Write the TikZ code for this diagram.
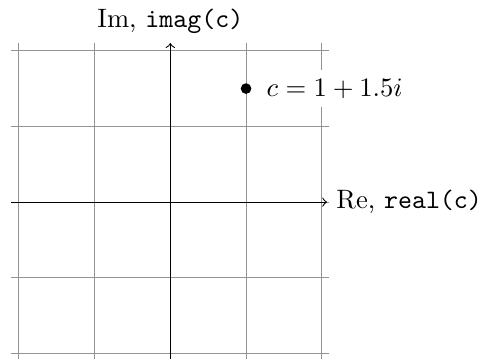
\documentclass[tikz,border=0pt]{standalone}
\usetikzlibrary{positioning}
\begin{document}
\begin{tikzpicture}[
    gridline/.style={gray!85, thin},
    axis/.style={->, black},
    dot/.style={circle, fill=black, inner sep=0pt, minimum size=4pt}
]
    \useasboundingbox (-2.25,-2.07) rectangle (4.13,2.67);

    % Grid
    \draw[gridline] (-2.1,-2.1) grid (2.1,2.1);

    % Axes
    \coordinate (xstart) at (-2.1,0);
    \coordinate (xend) at (2.07,0);
    \coordinate (ystart) at (0,-2.1);
    \coordinate (yend) at (0,2.1);
    \draw[axis] (xstart) -- (xend);
    \draw[axis] (ystart) -- (yend);
    \node[right] (relabel) at (xend) {Re, \texttt{real(c)}};
    \node[above] (imlabel) at (yend) {Im, \texttt{imag(c)}};

    % Point
    \node[dot] (c) at (1,1.5) {};
    \node[right=2pt of c, fill=white] (clabel) {$c = 1+1.5i$};
\end{tikzpicture}
\end{document}
